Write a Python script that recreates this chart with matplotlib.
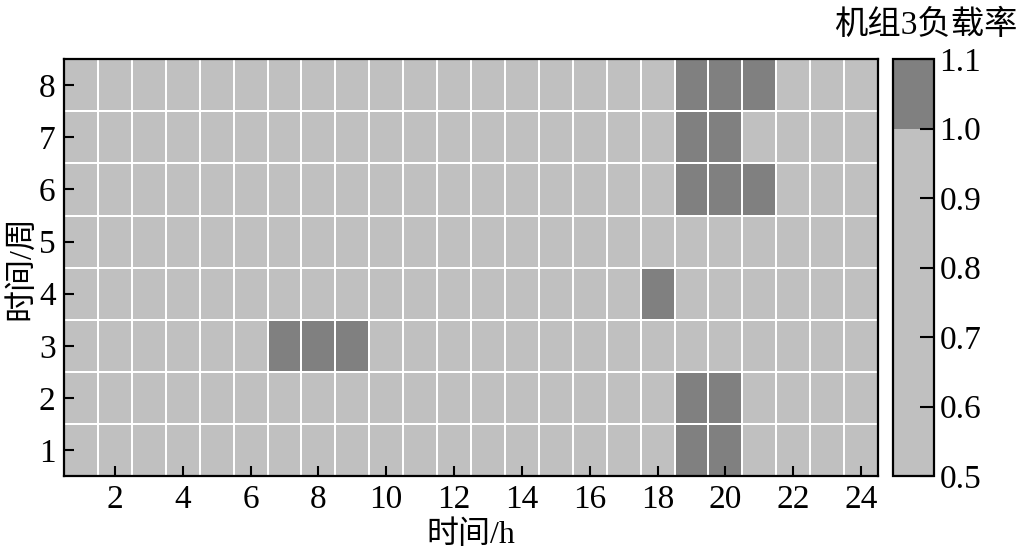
import numpy as np
import matplotlib
matplotlib.use("Agg")
import matplotlib.pyplot as plt
from matplotlib.colors import ListedColormap, BoundaryNorm

# Data: load rate of unit 3, rows = week 1..8, cols = hour 1..24
hours = list(range(1, 25))
weeks = list(range(1, 9))
base_rate = 0.9
high_rate = 1.05
# (week, hour) cells with load rate >= 1.0
high_cells = [
    (8, 19), (8, 20), (8, 21),
    (7, 19), (7, 20),
    (6, 19), (6, 20), (6, 21),
    (4, 18),
    (3, 7), (3, 8), (3, 9),
    (2, 19), (2, 20),
    (1, 19), (1, 20),
]
xticks = [2, 4, 6, 8, 10, 12, 14, 16, 18, 20, 22, 24]
cbar_ticks = [0.5, 0.6, 0.7, 0.8, 0.9, 1.0, 1.1]

values = np.full((len(weeks), len(hours)), base_rate)
for w, h in high_cells:
    values[weeks.index(w), hours.index(h)] = high_rate

serif = ["Liberation Serif", "DejaVu Serif"]
cjk = ["Liberation Serif", "Noto Sans CJK SC", "DejaVu Sans"]

fig = plt.figure(figsize=(10.21, 5.53), dpi=100)
ax = fig.add_axes([0.0627, 0.139, 0.7973, 0.754])
cax = fig.add_axes([0.8746, 0.139, 0.040, 0.754])

cmap = ListedColormap(["#c0c0c0", "#808080"])
norm = BoundaryNorm([0.5, 1.0, 1.1], cmap.N)

xe = np.arange(len(hours) + 1) + 0.5
ye = np.arange(len(weeks) + 1) + 0.5
mesh = ax.pcolormesh(xe, ye, values, cmap=cmap, norm=norm,
                     edgecolors="white", linewidth=1.2)
ax.set_xlim(0.5, 24.5)
ax.set_ylim(0.5, 8.5)
ax.set_xticks(xticks)
ax.set_yticks(weeks)
ax.tick_params(direction="in", length=7, width=1.5, labelsize=24, pad=6)
for lab in ax.get_xticklabels() + ax.get_yticklabels():
    lab.set_fontfamily(serif)
for s in ax.spines.values():
    s.set_linewidth(1.6)
ax.set_xlabel("时间/h", family=cjk, fontsize=23, labelpad=4)
ax.set_ylabel("时间/周", family=cjk, fontsize=23, labelpad=2)

cb = fig.colorbar(mesh, cax=cax, ticks=cbar_ticks, spacing="proportional")
cb.ax.set_ylim(0.5, 1.1)
cb.ax.set_yticklabels([f"{t:.1f}" for t in cbar_ticks])
cb.ax.tick_params(direction="in", length=10, width=1.5, labelsize=24, pad=4)
for lab in cb.ax.get_yticklabels():
    lab.set_fontfamily(serif)
cb.outline.set_linewidth(1.6)

fig.text(0.997, 0.955, "机组3负载率", family=cjk, fontsize=24,
         ha="right", va="center")

fig.savefig("out.png", dpi=100)
